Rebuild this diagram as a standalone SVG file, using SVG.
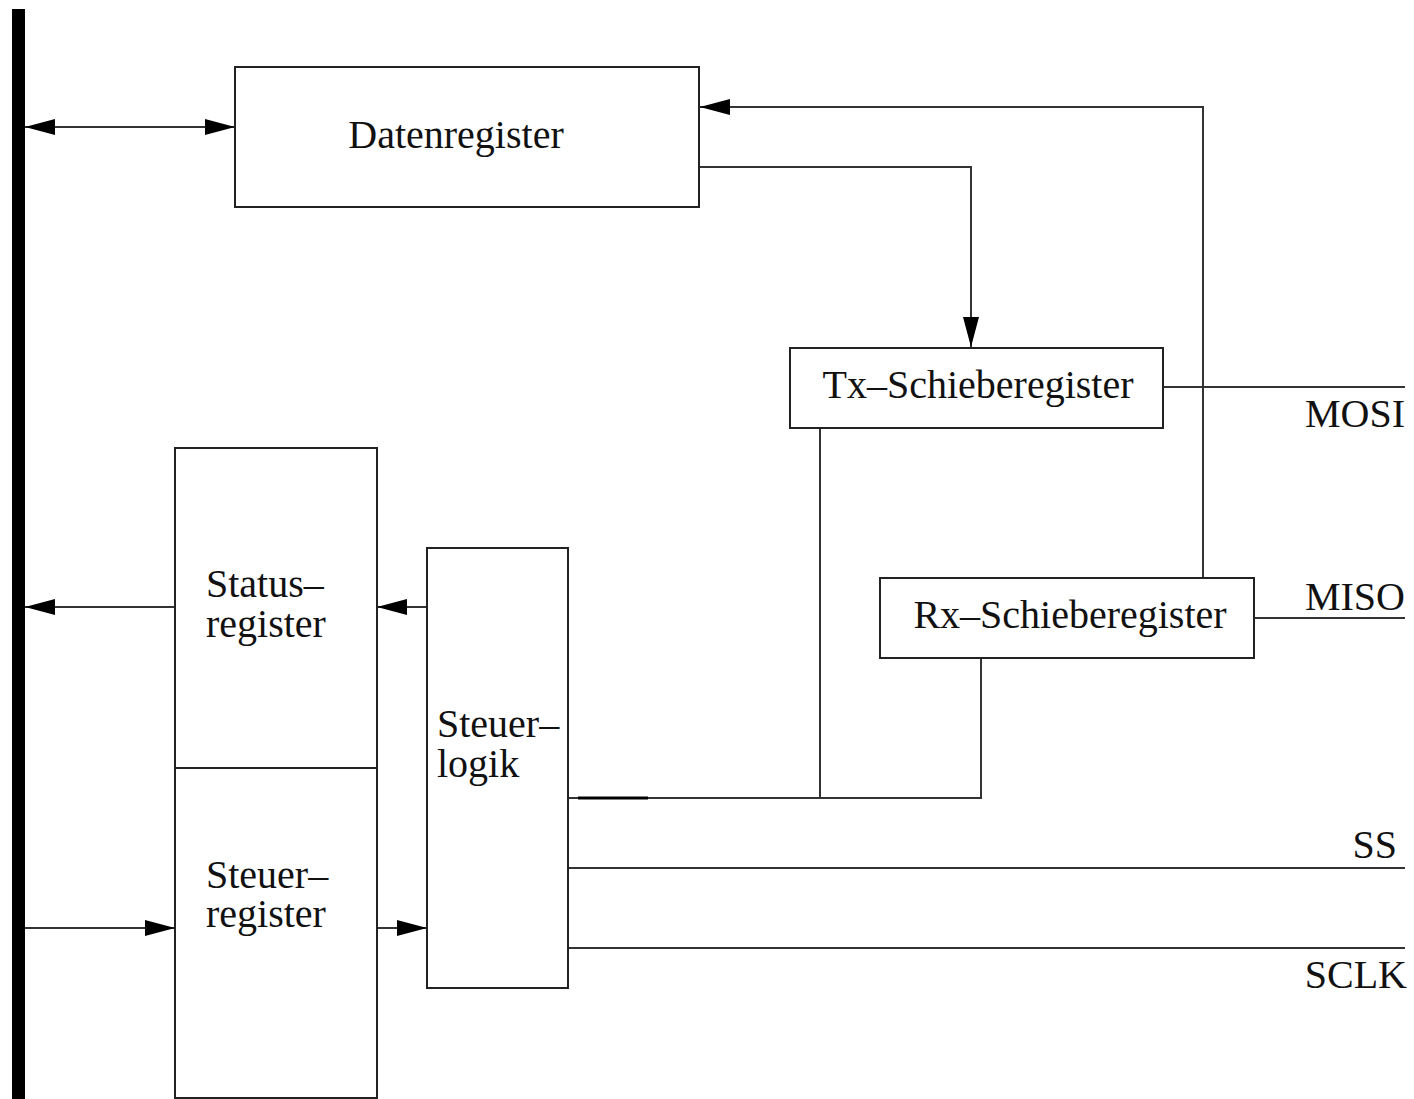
<svg xmlns="http://www.w3.org/2000/svg" width="1414" height="1099" viewBox="0 0 1414 1099">
<style>
.box{fill:#fff;stroke:#222;stroke-width:2}
.ln{fill:none;stroke:#333;stroke-width:2}
.arr{marker-end:url(#ah)}
.bi{marker-start:url(#ah);marker-end:url(#ah)}
text{font-family:"Liberation Serif","Times New Roman",serif;font-size:40px;fill:#111}
.c{text-anchor:middle}
.r{text-anchor:end}
</style>
<defs>
<marker id="ah" markerUnits="userSpaceOnUse" markerWidth="30" markerHeight="16" refX="30" refY="8" orient="auto-start-reverse">
<path d="M0,0 L30,8 L0,16 Z" fill="#000"/>
</marker>
</defs>
<rect width="1414" height="1099" fill="#fff"/>
<g id="bus"><rect x="12" y="9" width="13" height="1090" fill="#000"/></g>
<g id="connectors">
<line class="ln bi" x1="25" y1="127" x2="235" y2="127"/>
<polyline class="ln arr" points="1203,578 1203,107 700,107"/>
<polyline class="ln arr" points="700,167 971,167 971,347"/>
<line class="ln" x1="1163" y1="387" x2="1405" y2="387"/>
<line class="ln" x1="1254" y1="618" x2="1405" y2="618"/>
<line class="ln" x1="820" y1="428" x2="820" y2="798"/>
<polyline class="ln" points="568,798 981,798 981,658"/>
<line x1="578" y1="798" x2="648" y2="798" stroke="#000" stroke-width="3"/>
<line class="ln" x1="568" y1="868" x2="1405" y2="868"/>
<line class="ln" x1="568" y1="948" x2="1405" y2="948"/>
<line class="ln arr" x1="427" y1="607" x2="377" y2="607"/>
<line class="ln arr" x1="175" y1="607" x2="25" y2="607"/>
<line class="ln arr" x1="25" y1="928" x2="175" y2="928"/>
<line class="ln arr" x1="377" y1="928" x2="427" y2="928"/>
</g>
<g id="datenregister">
<rect class="box" x="235" y="67" width="464" height="140"/>
<text class="c" x="456" y="148">Datenregister</text>
</g>
<g id="tx">
<rect class="box" x="790" y="348" width="373" height="80"/>
<text class="c" x="978" y="398">Tx–Schieberegister</text>
</g>
<g id="rx">
<rect class="box" x="880" y="578" width="374" height="80"/>
<text class="c" x="1070" y="628">Rx–Schieberegister</text>
</g>
<g id="statusregister">
<rect class="box" x="175" y="448" width="202" height="320"/>
<text x="206" y="597">Status–<tspan x="206" y="637">register</tspan></text>
</g>
<g id="steuerregister">
<rect class="box" x="175" y="768" width="202" height="330"/>
<text x="206" y="888">Steuer–<tspan x="206" y="927">register</tspan></text>
</g>
<g id="steuerlogik">
<rect class="box" x="427" y="548" width="141" height="440"/>
<text x="437" y="737">Steuer–<tspan x="437" y="777">logik</tspan></text>
</g>
<g id="labels">
<text class="r" x="1405" y="427">MOSI</text>
<text class="r" x="1405" y="610">MISO</text>
<text class="r" x="1397" y="858">SS</text>
<text class="r" x="1407" y="988">SCLK</text>
</g>
</svg>
